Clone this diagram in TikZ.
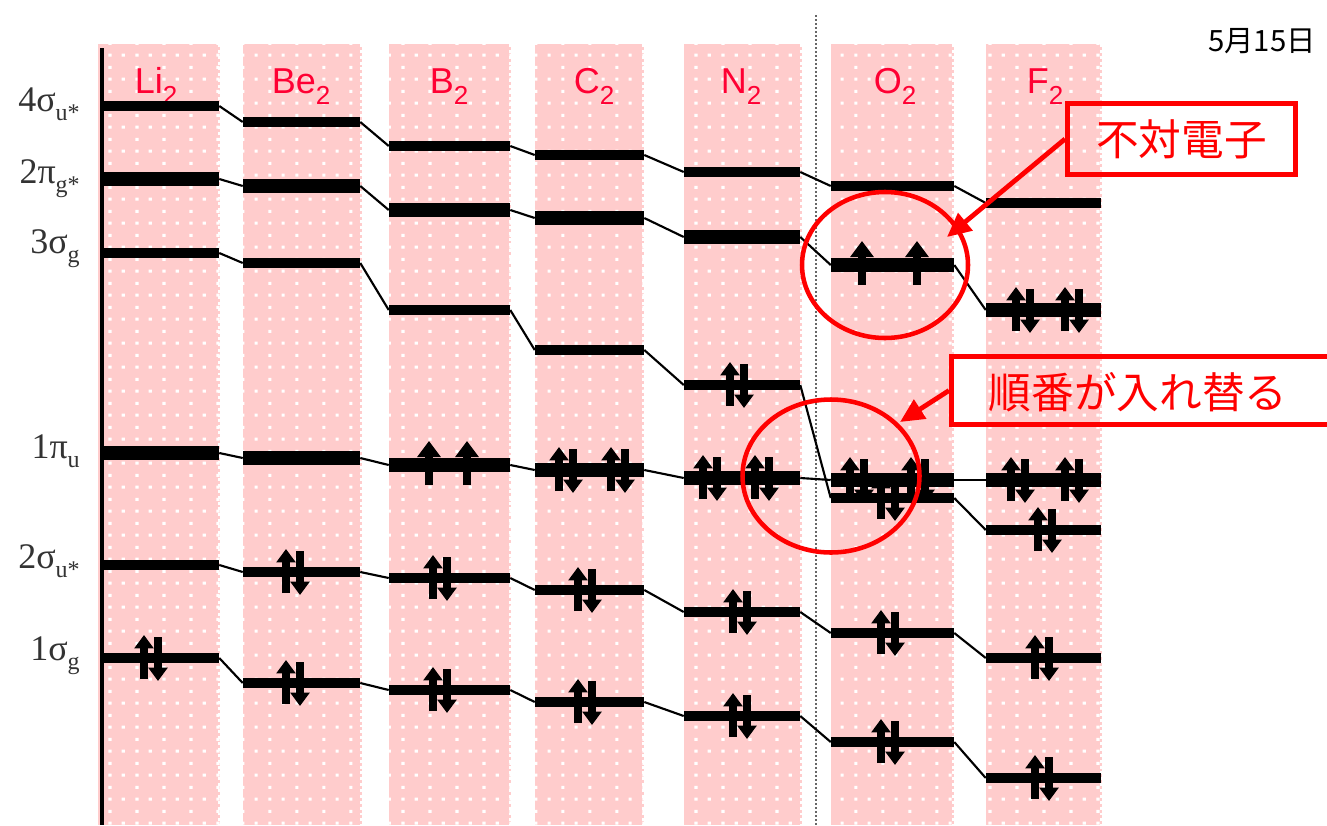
\documentclass[tikz,border=0pt]{standalone}
\usepackage{fontspec}
\usetikzlibrary{arrows.meta,patterns.meta,shapes.geometric}
\newfontfamily\labfont{Liberation Serif}
\newfontfamily\colfont{Liberation Sans}
\newfontfamily\cjk{Noto Sans CJK JP}
\definecolor{colpink}{RGB}{255,204,204}
\definecolor{labred}{RGB}{255,0,51}
\definecolor{markred}{RGB}{255,0,0}

% white dot grid laid over the pink columns
\tikzdeclarepattern{
  name=pinkdots, type=uncolored,
  bounding box={(0pt,0pt) and (20pt,18.15pt)},
  tile size={(20pt,18.15pt)},
  code={
    \pgfpathrectangle{\pgfpoint{1pt}{1pt}}{\pgfpoint{2.4pt}{2.4pt}}
    \pgfpathrectangle{\pgfpoint{11pt}{1pt}}{\pgfpoint{2.4pt}{2.4pt}}
    \pgfpathrectangle{\pgfpoint{1pt}{10.07pt}}{\pgfpoint{2.4pt}{2.4pt}}
    \pgfusepath{fill}
  }
}

% one energy level: name, left x, right x, y, style
\newcommand\mklevel[5]{\node[#5, minimum width={(#3-#2)*0.75pt}] (#1) at ({(#2+#3)/2},#4) {};}
% subscript 2 of the molecule names
\newcommand\subtwo{\raisebox{-8.25pt}{\fontsize{19.5}{19.5}\selectfont 2}}
% orbital label: name, baseline y, main part, subscript
\newcommand\orblabel[4]{\node[orblab] (#1) at (80,#2) {#3\raisebox{-7pt}{\fontsize{18}{18}\selectfont #4}};}
% pink column with dotted fill
\newcommand\mocolumn[2]{%
  \fill[colpink, postaction={pattern=pinkdots, pattern color=white}] (#1,44) rectangle (#2,825);
  \draw[white, line width=1.2pt, dash pattern=on 2.2pt off 2.2pt] (#2-1,44) -- (#2-1,825);}

\begin{document}
\begin{tikzpicture}[x=0.75pt, y=-0.75pt,
  sig/.style={rectangle, fill=black, inner sep=0pt, minimum height=7pt},
  pib/.style={rectangle, fill=black, inner sep=0pt, minimum height=10.5pt},
  conn/.style={line width=1.6pt, black},
  elec/.style={line width=5.5pt, -{Triangle[width=14pt,length=10pt]}},
  elecone/.style={line width=6.5pt, -{Triangle[width=17pt,length=12pt]}},
  pair/.pic={\draw[elec] (-7,21) -- (-7,-23); \draw[elec] (7,-21) -- (7,23);},
  single/.pic={\draw[elecone] (0,20) -- (0,-24);},
  collab/.style={anchor=base, inner sep=0pt, text=labred, font=\colfont\fontsize{27}{27}\selectfont},
  orblab/.style={anchor=base east, inner sep=0pt, text=black!80, font=\labfont\fontsize{27}{27}\selectfont},
  redbox/.style={rectangle, draw=markred, line width=3.75pt, inner sep=0pt},
  redell/.style={ellipse, draw=markred, line width=3.4pt, inner sep=0pt},
  redarrow/.style={draw=markred, line width=3.6pt, -{Triangle[width=16.5pt,length=18pt]}},
  redtext/.style={text=markred, font=\cjk\fontsize{32}{32}\selectfont, inner sep=0pt}
]
\useasboundingbox (0,0) rectangle (1327,825);
\clip (0,0) rectangle (1327,825);
\fill[white] (0,0) rectangle (1327,825);

% columns
\mocolumn{98}{220}
\mocolumn{243}{362}
\mocolumn{389}{511}
\mocolumn{535}{644}
\mocolumn{684}{802}
\mocolumn{831}{954}
\mocolumn{986}{1102}

% dotted separator and energy axis
\draw[black!60, line width=1.6pt, dash pattern=on 1.5pt off 1.5pt] (816,15) -- (816,825);
\draw[black, line width=2.4pt] (102,48) -- (102,825);

% molecule names
\node[collab] (lab-Li) at (156,93) {Li\subtwo};
\node[collab] (lab-Be) at (301,93) {Be\subtwo};
\node[collab] (lab-B) at (449,93) {B\subtwo};
\node[collab] (lab-C) at (594,93) {C\subtwo};
\node[collab] (lab-N) at (741,93) {N\subtwo};
\node[collab] (lab-O) at (895,93) {O\subtwo};
\node[collab] (lab-F) at (1045,93) {F\subtwo};

% orbital names
\orblabel{o-s4}{111}{4σ}{u*}
\orblabel{o-p2}{183}{2π}{g*}
\orblabel{o-s3}{253}{3σ}{g}
\orblabel{o-p1}{458}{1π}{u}
\orblabel{o-s2}{568}{2σ}{u*}
\orblabel{o-s1}{660}{1σ}{g}

% energy levels
\foreach \n/\cl/\cr/\ya/\yb/\yc/\yd/\ye/\yf in {
  Li/100/219/106/179/253/453/565/658,
  Be/243/360/122/186/263/458/572/683,
  B/389/510/146/210/310/465/578/690,
  C/535/644/155/218/350/470/590/702,
  N/684/800/172/237/385/478/612/716,
  O/831/954/186/265/498/480/633/742,
  F/986/1101/203/310/530/480/658/778}{
  \mklevel{\n-s4}{\cl}{\cr}{\ya}{sig}
  \mklevel{\n-p2}{\cl}{\cr}{\yb}{pib}
  \mklevel{\n-s3}{\cl}{\cr}{\yc}{sig}
  \mklevel{\n-p1}{\cl}{\cr}{\yd}{pib}
  \mklevel{\n-s2}{\cl}{\cr}{\ye}{sig}
  \mklevel{\n-s1}{\cl}{\cr}{\yf}{sig}
}

% correlation lines between neighbouring molecules
\foreach \a/\b in {Li/Be,Be/B,B/C,C/N,N/O,O/F}{
  \foreach \k in {s4,p2,s3,p1,s2,s1}{
    \draw[conn] (\a-\k.east) -- (\b-\k.west);
  }
}

% electrons
\pic at (151,658) {pair};
\pic at (293,572) {pair};
\pic at (293,683) {pair};
\pic at (429,465) {single};
\pic at (467,465) {single};
\pic at (440,578) {pair};
\pic at (440,690) {pair};
\pic at (566,470) {pair};
\pic at (618,470) {pair};
\pic at (585,590) {pair};
\pic at (585,702) {pair};
\pic at (737,385) {pair};
\pic at (710,478) {pair};
\pic at (762,478) {pair};
\pic at (740,612) {pair};
\pic at (740,716) {pair};
\pic at (862,265) {single};
\pic at (917,265) {single};
\pic at (857,480) {pair};
\pic at (918,480) {pair};
\pic at (888,498) {pair};
\pic at (888,633) {pair};
\pic at (888,742) {pair};
\pic at (1023,310) {pair};
\pic at (1072,310) {pair};
\pic at (1018,480) {pair};
\pic at (1072,480) {pair};
\pic at (1045,530) {pair};
\pic at (1042,658) {pair};
\pic at (1042,778) {pair};

% date
\node[inner sep=0pt, font=\cjk\fontsize{22}{22}\selectfont] (date) at (1262,41) {5月15日};

% annotations
\node[redell, minimum width=166*0.75pt, minimum height=146*0.75pt] (ell1) at (885,265) {};
\node[redell, minimum width=177*0.75pt, minimum height=153*0.75pt] (ell2) at (831,476) {};
\node[redbox, redtext, minimum width=228*0.75pt, minimum height=71*0.75pt] (box1) at (1181.5,139) {不対電子};
\node[redbox, minimum width=386*0.75pt, minimum height=68*0.75pt] (box2) at (1144.5,390.5) {};
\node[redtext] (txt2) at (1138,392) {順番が入れ替る};
\coordinate (tip1) at (947,237);
\coordinate (tip2) at (900,422);
\draw[redarrow] (box1.west) -- (tip1);
\draw[redarrow] (box2.west) -- (tip2);
\end{tikzpicture}
\end{document}
